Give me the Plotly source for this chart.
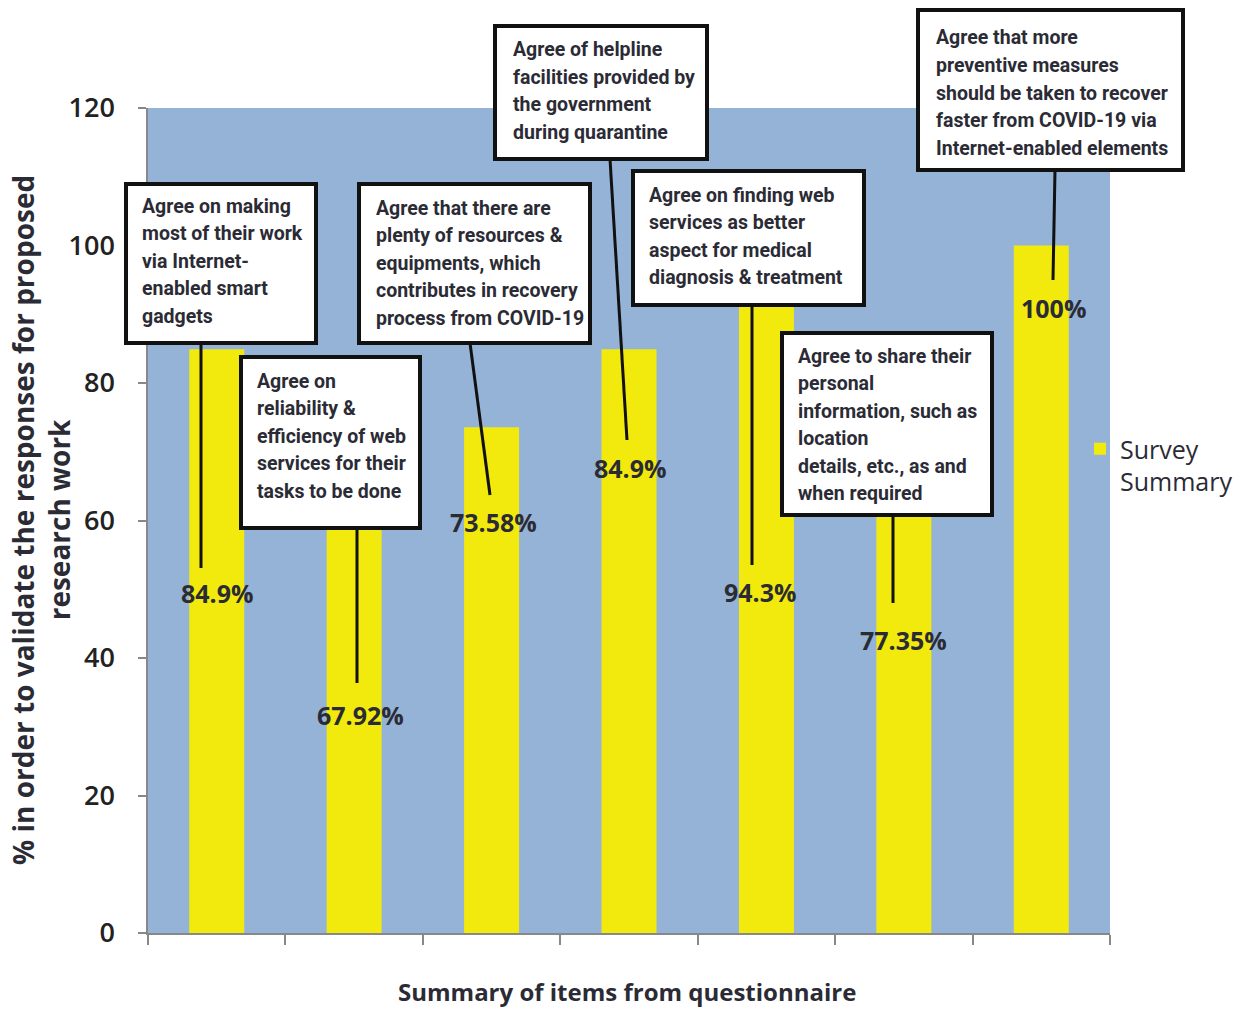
import plotly.graph_objects as go

# ---- data ----
categories = [
    "Agree on making most of their work via Internet-enabled smart gadgets",
    "Agree on reliability & efficiency of web services for their tasks to be done",
    "Agree that there are plenty of resources & equipments, which contributes in recovery process from COVID-19",
    "Agree of helpline facilities provided by the government during quarantine",
    "Agree on finding web services as better aspect for medical diagnosis & treatment",
    "Agree to share their personal information, such as location details, etc., as and when required",
    "Agree that more preventive measures should be taken to recover faster from COVID-19 via Internet-enabled elements",
]
values = [84.9, 67.92, 73.58, 84.9, 94.3, 77.35, 100]
value_labels = ["84.9%", "67.92%", "73.58%", "84.9%", "94.3%", "77.35%", "100%"]
box_lines = [
    ["Agree on making", "most of their work", "via Internet-", "enabled smart", "gadgets"],
    ["Agree on", "reliability &", "efficiency of web", "services for their", "tasks to be done"],
    ["Agree that there are", "plenty of resources &", "equipments, which", "contributes in recovery", "process from COVID-19"],
    ["Agree of helpline", "facilities provided by", "the government", "during quarantine"],
    ["Agree on finding web", "services as better", "aspect for medical", "diagnosis & treatment"],
    ["Agree to share their", "personal", "information, such as", "location", "details, etc., as and", "when required"],
    ["Agree that more", "preventive measures", "should be taken to recover", "faster from COVID-19 via", "Internet-enabled elements"],
]
series_name = "Survey<br>Summary"
y_ticks = [0, 20, 40, 60, 80, 100, 120]

# ---- layout geometry (pixels) ----
W, H = 1241, 1010
PL, PR, PT, PB = 148, 1110, 108, 933

def px(x):
    return (x - PL) / (PR - PL)

def py(y):
    return (PB - y) / (PB - PT)

# callout boxes: left, top, right, bottom, text-left, first-line centre
boxes = [
    (126, 184, 316, 343, 140, 206),
    (241, 357, 420, 528, 255, 381),
    (359, 184, 590, 343, 374, 208),
    (495, 26, 707, 159, 511, 50),
    (633, 171, 864, 305, 647, 195),
    (782, 333, 992, 515, 796, 356),
    (918, 10, 1183, 170, 934, 38),
]
leaders = [
    (201, 343, 201, 568),
    (357, 528, 357, 683),
    (470, 343, 490, 495),
    (610, 159, 627, 440),
    (752, 305, 752, 565),
    (893, 515, 893, 603),
    (1055, 170, 1053, 280),
]
label_pos = [(217, 593), (360, 715), (493, 522), (630, 468), (760, 592), (903, 640), (1053, 308)]
LINE_GAP = 27.5

BOX_FONT = "Roboto, Lato, sans-serif"
MAIN_FONT = "Open Sans, Noto Sans, sans-serif"
TXT = "#2b2b35"

fig = go.Figure()
fig.add_trace(go.Bar(
    x=list(range(len(values))),
    y=values,
    width=0.4,
    marker=dict(color="#f2ea0c", line=dict(width=0)),
    name=series_name,
    hovertext=categories,
    showlegend=True,
))

shapes = []
annotations = []
for (l, t, r, b, tx, ty), lines in zip(boxes, box_lines):
    shapes.append(dict(type="rect", xref="paper", yref="paper",
                       x0=px(l), x1=px(r), y0=py(b), y1=py(t),
                       fillcolor="white", line=dict(color="#111111", width=4)))
    for i, ln in enumerate(lines):
        annotations.append(dict(xref="paper", yref="paper", x=px(tx), y=py(ty + i * LINE_GAP),
                                xanchor="left", yanchor="middle", showarrow=False, text=ln,
                                font=dict(family=BOX_FONT, size=19.5, color=TXT, weight=700)))
for (x0, y0, x1, y1) in leaders:
    shapes.append(dict(type="line", xref="paper", yref="paper",
                       x0=px(x0), y0=py(y0), x1=px(x1), y1=py(y1),
                       line=dict(color="#111111", width=3)))
for (lx, ly), lab in zip(label_pos, value_labels):
    annotations.append(dict(xref="paper", yref="paper", x=px(lx), y=py(ly),
                            xanchor="center", yanchor="middle", showarrow=False, text=lab,
                            font=dict(family=MAIN_FONT, size=25, color=TXT, weight="bold")))

# y-axis title (two lines, rotated)
annotations.append(dict(xref="paper", yref="paper", x=px(41), y=py(520),
                        xanchor="center", yanchor="middle", showarrow=False, textangle=-90,
                        text="% in order to validate the responses for proposed<br>research work",
                        font=dict(family=MAIN_FONT, size=28, color=TXT, weight="bold")))
# x-axis title
annotations.append(dict(xref="paper", yref="paper", x=px(627), y=py(991),
                        xanchor="center", yanchor="middle", showarrow=False,
                        text="Summary of items from questionnaire",
                        font=dict(family=MAIN_FONT, size=24, color=TXT, weight="bold")))

fig.update_layout(
    width=W, height=H,
    margin=dict(l=PL, r=W - PR, t=PT, b=H - PB, autoexpand=False),
    paper_bgcolor="white",
    plot_bgcolor="#95b3d7",
    shapes=shapes,
    annotations=annotations,
    showlegend=True,
    legend=dict(x=px(1080), y=py(426), xanchor="left", yanchor="top",
                bgcolor="rgba(0,0,0,0)", valign="top",
                font=dict(family=MAIN_FONT, size=25, color=TXT)),
    xaxis=dict(range=[-0.5, len(values) - 0.5], tickvals=[i - 0.5 for i in range(len(values) + 1)],
               showticklabels=False, ticks="outside", ticklen=10, tickcolor="#888888", tickwidth=1.5,
               showline=True, linecolor="#888888", linewidth=1.5, showgrid=False, zeroline=False,
               fixedrange=True),
    yaxis=dict(range=[0, 120], tickvals=y_ticks, ticks="outside", ticklen=8, tickcolor="#888888",
               tickwidth=1.5, showline=True, linecolor="#888888", linewidth=1.5, showgrid=False,
               zeroline=False, ticklabelstandoff=18,
               tickfont=dict(family=MAIN_FONT, size=27, color="#222222", weight=600),
               fixedrange=True),
    bargap=0.6,
)

fig.write_html("out.html")
